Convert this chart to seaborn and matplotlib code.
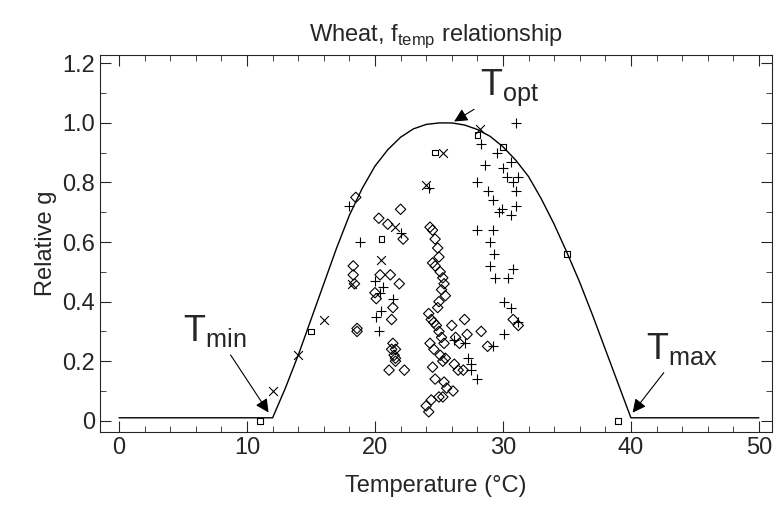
import numpy as np
import matplotlib
matplotlib.use('Agg')
import matplotlib.pyplot as plt
import seaborn as sns
from matplotlib.ticker import MultipleLocator

sns.set_style('ticks')
plt.rcParams['font.family'] = ['Liberation Sans', 'DejaVu Sans']

# model curve
curve_t = [0, 12, 12.5, 13, 13.5, 14, 15, 16, 17, 18, 19, 20, 21, 22, 23, 24, 25, 26, 27, 28,
           29, 30, 31, 32, 33, 34, 35, 36, 37, 38, 39, 40, 50]
curve_g = [0.01, 0.01, 0.06, 0.11, 0.165, 0.22, 0.34, 0.46, 0.58, 0.69, 0.78, 0.855, 0.91, 0.952,
           0.98, 0.995, 1.0, 1.0, 0.993, 0.978, 0.955, 0.92, 0.875, 0.82, 0.745, 0.66, 0.565,
           0.465, 0.355, 0.24, 0.125, 0.01, 0.01]

sq_t = [11, 15, 20.5, 24.7, 28, 30, 35, 39]
sq_g = [0.0, 0.30, 0.61, 0.90, 0.96, 0.92, 0.56, 0.0]

x_t = [12, 14, 16, 18.2, 20.5, 21.6, 24, 25.3, 28.2]
x_g = [0.10, 0.22, 0.34, 0.46, 0.54, 0.65, 0.79, 0.90, 0.98]

plus_t = [18, 18.8, 20.1, 20.3, 20.5, 21.4, 22.0, 24.2, 26.2, 27.0, 27.5, 28.0,
          28.3, 28.6, 28.0, 28.8, 29.2, 30.0, 30.3, 30.8, 31.0, 29.7, 29.9, 30.6, 31.0,
          29.2, 29.0, 29.3, 29.0, 29.4, 30.4, 30.8, 30.1, 29.2, 30.1, 30.6, 27.3, 27.5,
          20.4, 20.6, 31.0, 20.0, 31.2, 28.0, 29.5, 30.6, 31.2]
plus_g = [0.72, 0.60, 0.35, 0.30, 0.37, 0.41, 0.63, 0.78, 0.27, 0.26, 0.17, 0.14,
          0.93, 0.86, 0.80, 0.77, 0.74, 0.85, 0.82, 0.80, 0.77, 0.70, 0.71, 0.69, 0.72,
          0.64, 0.60, 0.56, 0.52, 0.48, 0.48, 0.51, 0.40, 0.25, 0.29, 0.38, 0.21, 0.19,
          0.43, 0.45, 1.00, 0.47, 0.33, 0.64, 0.90, 0.87, 0.82]

dia_t = [18.5, 18.3, 18.3, 18.4, 18.6, 18.6, 20.3, 20.0, 20.1, 20.4, 21.0, 21.2, 21.4,
         21.3, 21.6, 21.5, 21.6, 21.1, 21.6, 21.3, 21.4, 22.0, 22.2, 22.3, 21.9,
         24.3, 24.5, 24.7, 24.9, 25.0, 24.5, 24.7, 25.1, 25.3, 25.4, 25.2, 25.5, 25.0,
         24.9, 24.2, 24.4, 24.6, 24.8, 25.0, 25.2, 25.4, 24.3, 24.6, 25.1, 25.5, 25.3,
         26.0, 26.3, 26.6, 26.2, 26.5, 27.0, 27.2, 26.9, 24.5, 24.7, 25.4, 25.6, 26.1,
         28.3, 28.8, 30.8, 31.2, 24.0, 24.4, 24.2, 25.0, 25.3]
dia_g = [0.75, 0.52, 0.49, 0.46, 0.31, 0.30, 0.68, 0.43, 0.41, 0.49, 0.66, 0.49, 0.38,
         0.34, 0.24, 0.22, 0.20, 0.17, 0.21, 0.24, 0.26, 0.71, 0.61, 0.17, 0.46,
         0.65, 0.64, 0.61, 0.58, 0.55, 0.53, 0.52, 0.50, 0.48, 0.46, 0.44, 0.42, 0.40,
         0.38, 0.36, 0.34, 0.33, 0.32, 0.30, 0.28, 0.26, 0.26, 0.24, 0.22, 0.21, 0.20,
         0.32, 0.28, 0.26, 0.19, 0.17, 0.34, 0.29, 0.17, 0.18, 0.14, 0.13, 0.11, 0.10,
         0.30, 0.25, 0.34, 0.32, 0.05, 0.07, 0.03, 0.08, 0.08]

fig = plt.figure(figsize=(7.74, 5.19), dpi=100)
ax = fig.add_axes([0.129, 0.168, 0.868, 0.726])

sns.lineplot(x=curve_t, y=curve_g, color='black', linewidth=1, ax=ax)
sns.scatterplot(x=dia_t, y=dia_g, marker='D', s=28, facecolor='none', edgecolor='black', linewidth=0.8, ax=ax)
sns.scatterplot(x=plus_t, y=plus_g, marker='+', s=50, color='black', linewidth=0.8, ax=ax)
sns.scatterplot(x=x_t, y=x_g, marker='x', s=40, color='black', linewidth=0.8, ax=ax)
sns.scatterplot(x=sq_t, y=sq_g, marker='s', s=16, facecolor='none', edgecolor='black', linewidth=0.8, ax=ax)

arr = dict(arrowstyle='-|>', color='black', lw=0.8, mutation_scale=20)
ax.annotate('T$_{\\mathregular{min}}$', xy=(11.8, 0.02), xytext=(7.5, 0.24), fontsize=26, arrowprops=arr,
            ha='center', va='bottom')
ax.annotate('T$_{\\mathregular{opt}}$', xy=(26, 1.0), xytext=(30.5, 1.05), fontsize=26, arrowprops=arr,
            ha='center', va='bottom')
ax.annotate('T$_{\\mathregular{max}}$', xy=(40, 0.02), xytext=(44, 0.18), fontsize=26, arrowprops=arr,
            ha='center', va='bottom')

ax.set_xlim(-1.5, 51)
ax.set_ylim(-0.037, 1.228)
ax.xaxis.set_major_locator(MultipleLocator(10))
ax.xaxis.set_minor_locator(MultipleLocator(2))
ax.yaxis.set_minor_locator(MultipleLocator(0.1))
ax.set_yticks([0, 0.2, 0.4, 0.6, 0.8, 1.0, 1.2])
ax.set_yticklabels(['0', '0.2', '0.4', '0.6', '0.8', '1.0', '1.2'])
ax.tick_params(which='both', direction='in', top=True, right=True, labelsize=17)
ax.tick_params(which='major', length=8)
ax.tick_params(which='minor', length=4)
for s in ax.spines.values():
    s.set_linewidth(0.8)
ax.set_xlabel('Temperature (°C)', fontsize=17, labelpad=12)
ax.set_ylabel('Relative g', fontsize=17)
ax.set_title('Wheat, f$_{\\mathregular{temp}}$ relationship', fontsize=17, pad=10)

fig.savefig('out.png', dpi=100)
